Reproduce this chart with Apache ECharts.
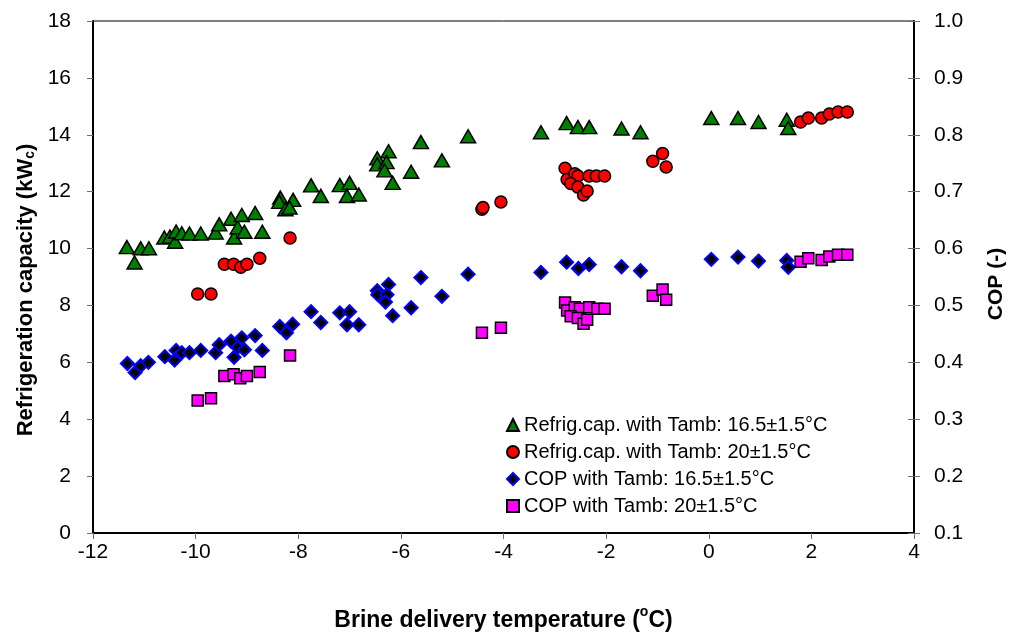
<!DOCTYPE html>
<html>
<head>
<meta charset="utf-8">
<script src="https://cdn.jsdelivr.net/npm/echarts@6/dist/echarts.min.js"></script>
<style>
  html, body { margin: 0; padding: 0; background: #fff; }
  #chart { width: 1015px; height: 641px; }
</style>
</head>
<body>
<div id="chart"></div>
<script>
// X axis ticks: brine delivery temperature (°C)
const xTicks = { min: -12, max: 4, interval: 2 };
const capTicks = { min: 0, max: 18, interval: 2 };
const copTicks = { min: 0.1, max: 1.0, interval: 0.1 };

const seriesNames = [
  'Refrig.cap. with Tamb: 16.5±1.5°C',
  'Refrig.cap. with Tamb: 20±1.5°C',
  'COP with Tamb: 16.5±1.5°C',
  'COP with Tamb: 20±1.5°C'
];

// Refrigeration capacity, Tamb 16.5 °C  [T, kW]
const capLow = [
  [-11.34,10.05],[-11.19,9.51],[-11.07,10.01],[-10.91,10.01],[-10.61,10.39],[-10.50,10.42],
  [-10.40,10.24],[-10.38,10.60],[-10.27,10.54],[-10.12,10.53],[-9.90,10.53],[-9.61,10.56],
  [-9.54,10.85],[-9.31,11.05],[-9.25,10.39],[-9.18,10.74],[-9.10,11.18],[-9.05,10.59],
  [-8.84,11.25],[-8.70,10.59],[-8.35,11.79],[-8.37,11.64],[-8.10,11.71],[-8.25,11.38],
  [-8.17,11.44],[-7.75,12.22],[-7.56,11.85],[-7.19,12.23],[-7.00,12.31],[-7.05,11.85],
  [-6.82,11.90],[-6.46,13.17],[-6.24,13.42],[-6.46,12.96],[-6.28,13.04],[-6.32,12.75],
  [-6.16,12.31],[-5.80,12.70],[-5.61,13.74],[-5.20,13.10],[-4.69,13.95],[-3.27,14.09],
  [-2.77,14.41],[-2.55,14.27],[-2.33,14.27],[-1.70,14.22],[-1.33,14.09],[0.05,14.59],
  [0.57,14.59],[0.97,14.45],[1.52,14.53],[1.55,14.24]
];

// Refrigeration capacity, Tamb 20 °C  [T, kW]
const capHigh = [
  [-9.96,8.40],[-9.70,8.40],[-9.44,9.45],[-9.26,9.45],[-9.12,9.34],[-9.00,9.45],[-8.75,9.66],
  [-8.16,10.37],[-4.42,11.38],[-4.40,11.44],[-4.05,11.64],[-2.80,12.82],[-2.76,12.43],
  [-2.61,12.63],[-2.55,12.55],[-2.69,12.29],[-2.55,12.16],[-2.44,11.88],[-2.37,12.02],
  [-2.33,12.55],[-2.19,12.55],[-2.03,12.55],[-1.09,13.07],[-0.90,13.34],[-0.83,12.87],
  [1.79,14.45],[1.94,14.59],[2.20,14.59],[2.35,14.73],[2.52,14.80],[2.70,14.80]
];

// COP, Tamb 16.5 °C  [T, COP]
const copLow = [
  [-11.33,0.398],[-11.18,0.382],[-11.07,0.394],[-10.92,0.400],[-10.60,0.410],[-10.41,0.404],
  [-10.38,0.421],[-10.27,0.417],[-10.12,0.417],[-9.90,0.421],[-9.61,0.417],[-9.54,0.431],
  [-9.31,0.437],[-9.25,0.409],[-9.18,0.426],[-9.10,0.443],[-9.05,0.422],[-8.84,0.447],
  [-8.70,0.421],[-8.36,0.463],[-8.23,0.452],[-8.11,0.467],[-7.75,0.489],[-7.56,0.470],
  [-7.19,0.487],[-7.00,0.489],[-7.05,0.466],[-6.82,0.466],[-6.46,0.526],[-6.24,0.537],
  [-6.45,0.519],[-6.27,0.519],[-6.30,0.506],[-6.16,0.482],[-5.80,0.496],[-5.61,0.549],
  [-5.20,0.516],[-4.69,0.555],[-3.27,0.558],[-2.77,0.576],[-2.54,0.565],[-2.33,0.572],
  [-1.70,0.568],[-1.33,0.561],[0.05,0.581],[0.57,0.585],[0.97,0.578],[1.52,0.579],[1.55,0.567]
];

// COP, Tamb 20 °C  [T, COP]
const copHigh = [
  [-9.96,0.333],[-9.70,0.337],[-9.44,0.376],[-9.26,0.379],[-9.13,0.372],[-9.00,0.376],
  [-8.75,0.383],[-8.16,0.412],[-4.42,0.452],[-4.05,0.461],[-2.80,0.505],[-2.76,0.491],
  [-2.61,0.497],[-2.51,0.494],[-2.69,0.481],[-2.55,0.478],[-2.44,0.468],[-2.37,0.475],
  [-2.33,0.497],[-2.17,0.494],[-2.03,0.494],[-1.09,0.517],[-0.90,0.528],[-0.83,0.510],
  [1.79,0.577],[1.94,0.583],[2.20,0.580],[2.35,0.586],[2.52,0.589],[2.70,0.589]
];

const FONT = '"Liberation Sans", Arial, sans-serif';
const chart = echarts.init(document.getElementById('chart'), null, { renderer: 'canvas' });

const axisLabelStyle = { fontFamily: FONT, fontSize: 21, color: '#000' };
const tickStyle = { show: true, length: 6, lineStyle: { color: '#707070', width: 1 } };

chart.setOption({
  backgroundColor: '#fff',
  animation: false,
  grid: {
    left: 93, right: 100, top: 21, bottom: 108,
    show: true, borderColor: '#000', borderWidth: 1, containLabel: false
  },
  legend: {
    orient: 'vertical',
    left: 501, top: 410,
    itemGap: 7,
    itemWidth: 12, itemHeight: 12,
    textStyle: { fontFamily: FONT, fontSize: 20, color: '#000' },
    data: seriesNames
  },
  xAxis: {
    type: 'value',
    min: xTicks.min, max: xTicks.max, interval: xTicks.interval,
    splitLine: { show: false },
    axisLine: { show: true, onZero: false, lineStyle: { color: '#000', width: 2 } },
    axisTick: tickStyle,
    axisLabel: Object.assign({ margin: 9 }, axisLabelStyle),
    name: '{a|Brine delivery temperature (}{s|o}{a|C)}',
    nameLocation: 'middle',
    nameGap: 72,
    nameTextStyle: {
      rich: {
        a: { fontFamily: FONT, fontSize: 23, fontWeight: 'bold', color: '#000', lineHeight: 32 },
        s: { fontFamily: FONT, fontSize: 14, fontWeight: 'bold', color: '#000', lineHeight: 12, verticalAlign: 'top' }
      }
    }
  },
  yAxis: [{
    type: 'value',
    position: 'left',
    min: capTicks.min, max: capTicks.max, interval: capTicks.interval,
    splitLine: { show: false },
    axisLine: { show: true, onZero: false, lineStyle: { color: '#000', width: 2 } },
    axisTick: tickStyle,
    axisLabel: Object.assign({ margin: 22 }, axisLabelStyle),
    name: '{a|Refrigeration capacity (kW}{s|c}{a|)}',
    nameLocation: 'middle',
    nameGap: 56,
    nameTextStyle: {
      padding: [0, 26, 0, 0],
      rich: {
        a: { fontFamily: FONT, fontSize: 22, fontWeight: 'bold', color: '#000' },
        s: { fontFamily: FONT, fontSize: 14, fontWeight: 'bold', color: '#000', padding: [8, 0, 0, 0] }
      }
    }
  }, {
    type: 'value',
    position: 'right',
    min: copTicks.min, max: copTicks.max, interval: copTicks.interval,
    splitLine: { show: false },
    axisLine: { show: true, onZero: false, lineStyle: { color: '#000', width: 2 } },
    axisTick: tickStyle,
    axisLabel: Object.assign({ margin: 20, formatter: v => v.toFixed(1) }, axisLabelStyle),
    name: 'COP (-)',
    nameLocation: 'middle',
    nameGap: 72,
    nameRotate: 90,
    nameTextStyle: { fontFamily: FONT, fontSize: 21, fontWeight: 'bold', color: '#000', padding: [0, 14, 0, 0] }
  }, {
    type: 'value',
    position: 'right',
    min: copTicks.min, max: copTicks.max, interval: copTicks.interval,
    splitLine: { show: false },
    axisLine: { show: false, onZero: false },
    axisTick: { show: true, inside: true, length: 6, lineStyle: { color: '#707070', width: 1 } },
    axisLabel: { show: false }
  }],
  series: [{
    name: seriesNames[0],
    type: 'scatter',
    yAxisIndex: 0,
    symbol: 'triangle',
    symbolSize: [15, 13],
    itemStyle: { color: '#008000', borderColor: '#000', borderWidth: 1.5, opacity: 1 },
    data: capLow
  }, {
    name: seriesNames[1],
    type: 'scatter',
    yAxisIndex: 0,
    symbol: 'circle',
    symbolSize: 12,
    itemStyle: { color: '#ff0000', borderColor: '#000', borderWidth: 1.5, opacity: 1 },
    data: capHigh
  }, {
    name: seriesNames[2],
    type: 'scatter',
    yAxisIndex: 1,
    symbol: 'diamond',
    symbolSize: [13, 13],
    itemStyle: { color: '#000', borderColor: '#0000ff', borderWidth: 2, opacity: 1 },
    data: copLow
  }, {
    name: seriesNames[3],
    type: 'scatter',
    yAxisIndex: 1,
    symbol: 'rect',
    symbolSize: 11,
    itemStyle: { color: '#ff00ff', borderColor: '#000', borderWidth: 1.5, opacity: 1 },
    data: copHigh
  }]
});
</script>
</body>
</html>
